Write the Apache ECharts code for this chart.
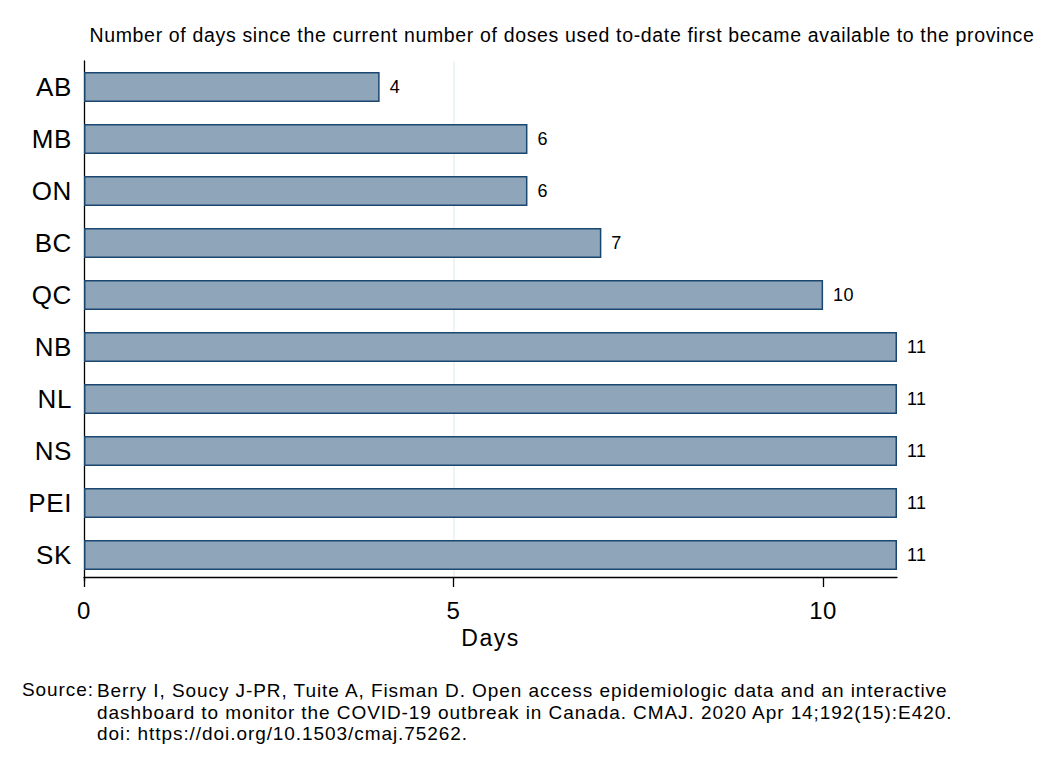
<!DOCTYPE html>
<html><head><meta charset="utf-8">
<script src="https://cdn.jsdelivr.net/npm/echarts@6/dist/echarts.min.js"></script>
<style>html,body{margin:0;padding:0;background:#fff}#c{width:1051px;height:765px}</style>
</head><body><div id="c"></div>
<script>
const provinces = ['AB','MB','ON','BC','QC','NB','NL','NS','PEI','SK'];
const days = [4,6,6,7,10,11,11,11,11,11];
const xTicks = [0,5,10];
const titleText = 'Number of days since the current number of doses used to-date first became available to the province';
const sourceLines = ['Berry I, Soucy J-PR, Tuite A, Fisman D. Open access epidemiologic data and an interactive','dashboard to monitor the COVID-19 outbreak in Canada. CMAJ. 2020 Apr 14;192(15):E420.','doi: https://doi.org/10.1503/cmaj.75262.'];
const FONT = 'Liberation Sans, Arial, sans-serif';
const dom = document.getElementById('c');
const chart = echarts.init(dom, null, {renderer:'svg'});
chart.setOption({
  animation:false,
  backgroundColor:'#fff',
  textStyle:{fontFamily:FONT},
  title:{text:titleText,left:557,textAlign:'center',top:20,textStyle:{fontFamily:FONT,fontSize:19.5,fontWeight:'normal',color:'#000'}},
  grid:{left:84,right:154,top:61,bottom:184,containLabel:false},
  xAxis:{type:'value',min:0,max:11,interval:5,offset:-4,
    name:'Days',nameLocation:'middle',nameGap:48,nameTextStyle:{fontFamily:FONT,fontSize:23,color:'#000'},
    axisLine:{show:true,lineStyle:{color:'#000',width:1.3}},
    axisTick:{show:true,length:10,lineStyle:{color:'#000',width:1.3},customValues:xTicks},
    axisLabel:{fontFamily:FONT,fontSize:24,color:'#000',margin:21,customValues:xTicks},
    splitLine:{show:true,showMinLine:false,showMaxLine:false,lineStyle:{color:'#e6f0f2',width:1.5}}},
  yAxis:{type:'category',data:provinces,inverse:true,
    axisLine:{show:true,lineStyle:{color:'#000',width:1.3}},
    axisTick:{show:false},
    axisLabel:{fontFamily:FONT,fontSize:26,color:'#000',margin:12}},
  series:[{type:'bar',data:days,barWidth:30,
    itemStyle:{color:'#8ea5ba',borderColor:'#1a476f',borderWidth:1.5},
    label:{show:true,position:'right',distance:10,fontFamily:FONT,fontSize:18,color:'#000'}}],
  graphic:[
    {type:'text',left:22,top:680,style:{text:'Source:',font:'19px '+FONT,fill:'#000'}},
    {type:'text',left:97,top:680,style:{text:sourceLines.join('\n'),font:'19px '+FONT,fill:'#000',lineHeight:21.5}}
  ]
});
const spacing = {'19.5':0.66,'19':0.93,'26':0.6,'24':0.5,'23':1.5,'18':0.4};
function applySpacing(){
  dom.querySelectorAll('text').forEach(function(t){
    const fs = parseFloat(getComputedStyle(t).fontSize);
    const v = spacing[String(fs)];
    if (v) t.style.letterSpacing = v + 'px';
  });
}
try { chart.getZr().refreshImmediately(); } catch(e) {}
applySpacing();
chart.on('finished', applySpacing);
setTimeout(applySpacing, 50);
</script></body></html>
